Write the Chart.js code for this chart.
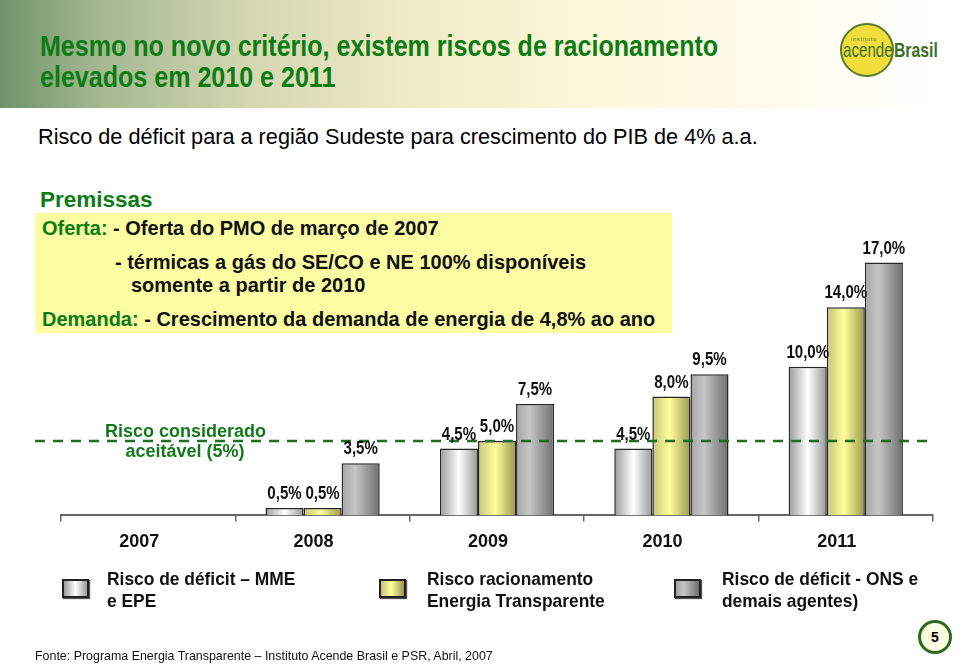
<!DOCTYPE html>
<html lang="pt">
<head>
<meta charset="utf-8">
<title>Risco de déficit - Sudeste</title>
<script src="https://cdn.jsdelivr.net/npm/chart.js@4.4.1/dist/chart.umd.min.js"></script>
<style>
  html, body { margin: 0; padding: 0; background: #fff; }
  body { width: 960px; height: 665px; position: relative; overflow: hidden;
         font-family: "Liberation Sans", Arial, sans-serif; }
  .abs { position: absolute; white-space: nowrap; transform-origin: left top; }
  #header { left: 0; top: 0; width: 960px; height: 108px;
    background: linear-gradient(to right, #6f936b 0%, #a3b78f 10%, #d3d7b2 26%, #efeac5 42%, #fdf6d8 60%, #fffbea 78%, #ffffff 100%); }
  #title { left: 40px; top: 31px; color: #0c7c14; font-weight: bold; font-size: 29px; line-height: 31px; transform: scaleX(0.864); }
  #logo { left: 840px; top: 23px; width: 54px; height: 54px; border-radius: 50%;
    background: #f1de3c; border: 2px solid #4f7d2c; box-sizing: border-box; }
  #logoInst { left: 851px; top: 36px; font-size: 6px; color: #4f7d2c; letter-spacing: 0.6px; }
  #logoAc { left: 843px; top: 38px; font-size: 21px; color: #3d6f2a; transform: scaleX(0.72); }
  #logoBr { left: 894px; top: 38px; font-size: 21px; color: #3d6f2a; font-weight: bold; transform: scaleX(0.75); }
  #subtitle { left: 38px; top: 124px; font-size: 21.7px; color: #000; }
  #premissas { left: 40px; top: 187px; color: #0c7c14; font-weight: bold; font-size: 22.5px; }
  #box { left: 35px; top: 213px; width: 637px; height: 120px; background: #fcfca2; }
  .bx { font-weight: bold; font-size: 21px; color: #111; transform: scaleX(0.952); }
  .g { color: #0c7c14; }
  #chart { position: absolute; left: 0; top: 0; }
  #aceitavel { left: 105px; top: 421px; width: 160px; text-align: center; color: #137a1b;
    font-weight: bold; font-size: 18px; line-height: 20px; }
  .lgbox { position: absolute; width: 27px; height: 19px; border: 2px solid #222; box-sizing: border-box;
    box-shadow: 1px 1px 1px #555; }
  .lgtxt { font-weight: bold; font-size: 19px; line-height: 22px; color: #111; transform: scaleX(0.915); }
  #fonte { left: 35px; top: 648px; font-size: 13.5px; color: #111; transform: scaleX(0.92); }
  #page { left: 918px; top: 620px; width: 34px; height: 34px; border-radius: 50%; border: 3px solid #2b6a1c;
    background: #fdfde2; box-sizing: border-box; text-align: center; line-height: 28px; font-weight: bold; font-size: 14px; }
</style>
</head>
<body>
<div id="header" class="abs"></div>
<div id="title" class="abs">Mesmo no novo critério, existem riscos de racionamento<br>elevados em 2010 e 2011</div>
<div id="logo" class="abs"></div>
<div id="logoInst" class="abs">instituto</div>
<div id="logoAc" class="abs">acende</div>
<div id="logoBr" class="abs">Brasil</div>
<div id="subtitle" class="abs">Risco de déficit para a região Sudeste para crescimento do PIB de 4% a.a.</div>
<div id="premissas" class="abs">Premissas</div>
<div id="box" class="abs"></div>
<div class="abs bx" style="left:42px;top:216px"><span class="g">Oferta:</span> - Oferta do PMO de março de 2007</div>
<div class="abs bx" style="left:115px;top:250px">- térmicas a gás do SE/CO e NE 100% disponíveis</div>
<div class="abs bx" style="left:131px;top:273px">somente a partir de 2010</div>
<div class="abs bx" style="left:42px;top:307px"><span class="g">Demanda:</span> - Crescimento da demanda de energia de 4,8% ao ano</div>

<canvas id="chart" width="960" height="665"></canvas>

<div id="aceitavel" class="abs">Risco considerado<br>aceitável (5%)</div>

<div class="lgbox" id="lg0" style="left:62px;top:579px"></div>
<div class="abs lgtxt" style="left:107px;top:568px">Risco de déficit – MME<br>e EPE</div>
<div class="lgbox" id="lg1" style="left:379px;top:579px"></div>
<div class="abs lgtxt" style="left:427px;top:568px">Risco racionamento<br>Energia Transparente</div>
<div class="lgbox" id="lg2" style="left:674px;top:579px"></div>
<div class="abs lgtxt" style="left:722px;top:568px">Risco de déficit - ONS e<br>demais agentes)</div>

<div id="fonte" class="abs">Fonte: Programa Energia Transparente – Instituto Acende Brasil e PSR, Abril, 2007</div>
<div id="page" class="abs">5</div>

<script>
const years = ['2007', '2008', '2009', '2010', '2011'];
const riscoMME = [null, 0.5, 4.5, 4.5, 10.0];
const riscoEnergiaTransparente = [null, 0.5, 5.0, 8.0, 14.0];
const riscoONS = [null, 3.5, 7.5, 9.5, 17.0];
const riscoAceitavel = 5;

const FONT = '"Liberation Sans", Arial, sans-serif';
const CAT_PCT = 0.655;

const whiteStops = [[0, '#9a9a9a'], [0.5, '#ffffff'], [1, '#989898']];
const yellowStops = [[0, '#c4c47a'], [0.45, '#ffff9c'], [1, '#98984e']];
const grayStops = [[0, '#a4a4a4'], [0.35, '#c6c6c6'], [1, '#6e6e6e']];

const barGradient = (ctx, stops) => {
  const chart = ctx.chart;
  const area = chart.chartArea;
  if (!area || ctx.type !== 'data') return stops[1][1];
  const catW = (area.right - area.left) / years.length;
  const bw = catW * CAT_PCT / 3;
  const cx = chart.scales.x.getPixelForValue(ctx.dataIndex) + (ctx.datasetIndex - 1) * bw;
  const g = chart.ctx.createLinearGradient(cx - bw / 2, 0, cx + bw / 2, 0);
  stops.forEach(([o, c]) => g.addColorStop(o, c));
  return g;
};

const cssGradient = (stops) =>
  'linear-gradient(to right, ' + stops.map(([o, c]) => `${c} ${o * 100}%`).join(', ') + ')';
document.getElementById('lg0').style.background = cssGradient(whiteStops);
document.getElementById('lg1').style.background = cssGradient(yellowStops);
document.getElementById('lg2').style.background = cssGradient(grayStops);

const fmt = (v) => v.toFixed(1).replace('.', ',') + '%';

// linha tracejada do risco aceitavel (5%)
const refLine = {
  id: 'refLine',
  afterDatasetsDraw(chart) {
    const { ctx, chartArea } = chart;
    const y = chart.scales.y.getPixelForValue(riscoAceitavel);
    ctx.save();
    ctx.strokeStyle = '#1d6e22';
    ctx.lineWidth = 2.5;
    ctx.setLineDash([10, 8]);
    ctx.beginPath();
    ctx.moveTo(chartArea.left - 26, y);
    ctx.lineTo(chartArea.right - 5, y);
    ctx.stroke();
    ctx.restore();
  },
};

// rotulos de valor acima das barras (fonte estreita simulada)
const valueLabels = {
  id: 'valueLabels',
  afterDraw(chart) {
    const ctx = chart.ctx;
    chart.data.datasets.forEach((ds, i) => {
      chart.getDatasetMeta(i).data.forEach((el, j) => {
        const v = ds.data[j];
        if (v == null) return;
        ctx.save();
        ctx.translate(el.x, el.y - 5);
        ctx.scale(0.86, 1);
        ctx.font = `bold 17.5px ${FONT}`;
        ctx.fillStyle = '#111';
        ctx.textAlign = 'center';
        ctx.textBaseline = 'bottom';
        ctx.fillText(fmt(v), 0, 0);
        ctx.restore();
      });
    });
  },
};

const makeDataset = (label, data, stops) => ({
  label,
  data,
  backgroundColor: (ctx) => barGradient(ctx, stops),
  borderColor: '#262626',
  borderWidth: 1.5,
  borderSkipped: 'bottom',
});

new Chart(document.getElementById('chart').getContext('2d'), {
  type: 'bar',
  data: {
    labels: years,
    datasets: [
      makeDataset('Risco de déficit – MME e EPE', riscoMME, whiteStops),
      makeDataset('Risco racionamento Energia Transparente', riscoEnergiaTransparente, yellowStops),
      makeDataset('Risco de déficit - ONS e demais agentes)', riscoONS, grayStops),
    ],
  },
  options: {
    responsive: false,
    animation: false,
    layout: { padding: { left: 61, right: 27, top: 218, bottom: 102 } },
    datasets: { bar: { barPercentage: 1, categoryPercentage: CAT_PCT } },
    scales: {
      x: {
        grid: { offset: true, drawOnChartArea: false, drawTicks: true, tickLength: 6, color: '#666', lineWidth: 1.5 },
        border: { color: '#666', width: 2 },
        ticks: { color: '#111', padding: 10, labelOffset: -9, font: { family: FONT, size: 18, weight: 'bold' } },
      },
      y: { display: false, min: 0, max: 20 },
    },
    plugins: { legend: { display: false }, tooltip: { enabled: false } },
  },
  plugins: [refLine, valueLabels],
});
</script>
</body>
</html>
